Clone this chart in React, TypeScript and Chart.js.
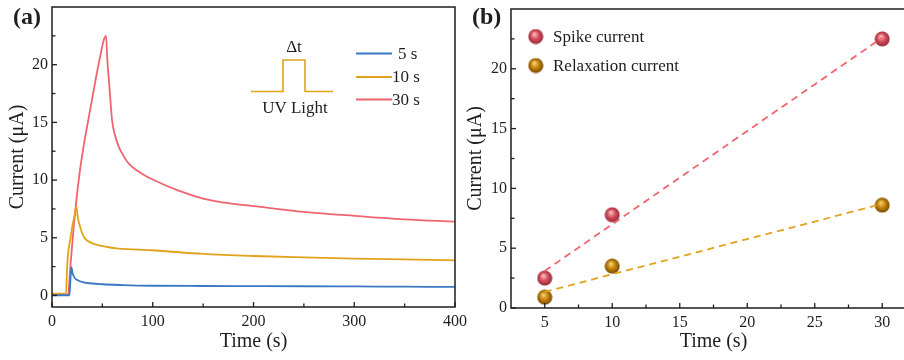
import React, { useEffect, useRef } from "react";
import { Chart, registerables } from "chart.js";
Chart.register(...registerables);

// ---------- Panel (a) data ----------
const time5 = [0, 10, 17.3, 18.2, 19.2, 20.5, 23, 26, 29.8, 35, 50, 70, 99, 150, 200, 250, 300, 350, 400];
const current5 = [0.02, 0.02, 0.02, 1.2, 2.46, 1.9, 1.47, 1.3, 1.18, 1.08, 0.97, 0.9, 0.84, 0.82, 0.81, 0.8, 0.78, 0.76, 0.74];

const time10 = [0, 8, 13.9, 14.8, 15.9, 18, 20, 22.5, 24.2, 25.5, 28.1, 30.5, 33.1, 38, 43, 55, 66, 99, 150, 200, 250, 300, 350, 400];
const current10 = [0.15, 0.15, 0.15, 2.0, 3.6, 4.8, 5.9, 7.0, 7.75, 6.8, 5.9, 5.3, 4.9, 4.6, 4.43, 4.2, 4.06, 3.92, 3.6, 3.42, 3.3, 3.2, 3.12, 3.04];

const time30 = [0, 8, 15.9, 18.2, 21.5, 26.5, 31.5, 36, 41, 46.4, 53.6, 55, 57, 59.6, 62.5, 66.2, 71, 76, 89.4, 100, 125, 150, 175, 200, 250, 300, 350, 400];
const current30 = [0.05, 0.05, 0.05, 2.46, 5.9, 10.0, 13.0, 15.2, 17.6, 20.1, 22.5, 20.3, 18.1, 15.2, 13.9, 12.9, 12.1, 11.45, 10.55, 10.05, 9.1, 8.4, 8.0, 7.75, 7.25, 6.9, 6.6, 6.4];

const seriesLabelsA = ["5 s", "10 s", "30 s"];

// ---------- Panel (b) data ----------
const pulseDuration = [5, 10, 30];
const spikeCurrent = [2.5, 7.8, 22.5];
const relaxationCurrent = [0.9, 3.5, 8.6];
const fitDuration = [5, 30];
const spikeFit = [3.1, 22.6];
const relaxationFit = [1.35, 8.7];
const seriesLabelsB = ["Spike current", "Relaxation current"];

// ---------- ticks ----------
const xMajorA = [0, 100, 200, 300, 400];
const xMinorA = [50, 150, 250, 350];
const yMajor = [0, 5, 10, 15, 20];
const yMinor = [2.5, 7.5, 12.5, 17.5, 22.5];
const xMajorB = [5, 10, 15, 20, 25, 30];
const xMinorB = [7.5, 12.5, 17.5, 22.5, 27.5];

const BLUE = "#3b78c4";
const ORANGE = "#e3a21c";
const RED = "#f0646e";
const INK = "#1e1e1e";
const SERIF = "'Liberation Serif', 'Times New Roman', serif";

function makeSphere(hi: string, mid: string, edge: string) {
  const c = document.createElement("canvas");
  c.width = 16;
  c.height = 16;
  const g = c.getContext("2d")!;
  const grad = g.createRadialGradient(6.5, 5.5, 0.5, 8, 8, 8);
  grad.addColorStop(0, hi);
  grad.addColorStop(0.45, mid);
  grad.addColorStop(1, edge);
  g.fillStyle = grad;
  g.beginPath();
  g.arc(8, 8, 7.5, 0, Math.PI * 2);
  g.fill();
  return c;
}

function framePlugin(xMaj: number[], xMin: number[], yMaj: number[], yMin: number[]) {
  return {
    id: "frameTicks",
    afterDraw(chart: any) {
      const { ctx, chartArea: a, scales } = chart;
      ctx.save();
      ctx.strokeStyle = INK;
      ctx.lineWidth = 1.5;
      ctx.strokeRect(a.left, a.top, a.right - a.left, a.bottom - a.top);
      ctx.lineWidth = 1.3;
      const xs = scales.x;
      const ys = scales.y;
      const drawX = (vals: number[], len: number) => {
        vals.forEach((v) => {
          const p = xs.getPixelForValue(v);
          ctx.beginPath();
          ctx.moveTo(p, a.bottom);
          ctx.lineTo(p, a.bottom - len);
          ctx.stroke();
        });
      };
      const drawY = (vals: number[], len: number) => {
        vals.forEach((v) => {
          const p = ys.getPixelForValue(v);
          ctx.beginPath();
          ctx.moveTo(a.left, p);
          ctx.lineTo(a.left + len, p);
          ctx.stroke();
        });
      };
      drawX(xMaj, 5);
      drawX(xMin, 3.5);
      drawY(yMaj, 5);
      drawY(yMin, 3.5);
      ctx.restore();
    },
  };
}

function setTicks(vals: number[]) {
  return (scale: any) => {
    scale.ticks = vals.map((v) => ({ value: v }));
  };
}

function fixX(h: number) {
  return (s: any) => {
    s.height = h;
    s.paddingLeft = 0;
    s.paddingRight = 0;
  };
}
function fixY(w: number) {
  return (s: any) => {
    s.width = w;
    s.paddingTop = 0;
    s.paddingBottom = 0;
  };
}

const tickFont = { family: SERIF, size: 16 };
const titleFont = { family: SERIF, size: 20 };

export default function App() {
  const refA = useRef<HTMLCanvasElement>(null);
  const refB = useRef<HTMLCanvasElement>(null);

  useEffect(() => {
    const sphereRed = makeSphere("#f7c0c4", "#d9525e", "#8e2434");
    const sphereOrange = makeSphere("#f6d27a", "#c9860c", "#6e4200");

    const toXY = (xs: number[], ys: number[]) => xs.map((x, i) => ({ x, y: ys[i] }));

    const xAxis = (min: number, max: number, major: number[], h: number) => ({
      type: "linear",
      min,
      max,
      grid: { display: false, drawTicks: false },
      border: { display: false },
      afterBuildTicks: setTicks(major),
      afterFit: fixX(h),
      ticks: { color: INK, font: tickFont, autoSkip: false, maxRotation: 0, padding: 5 },
      title: { display: true, text: "Time (s)", color: INK, font: titleFont, padding: { top: 0, bottom: 6 } },
    });
    const yAxis = (min: number, max: number, w: number) => ({
      type: "linear",
      min,
      max,
      grid: { display: false, drawTicks: false },
      border: { display: false },
      afterBuildTicks: setTicks(yMajor),
      afterFit: fixY(w),
      ticks: { color: INK, font: tickFont, autoSkip: false, padding: 4 },
      title: { display: true, text: "Current (\u03bcA)", color: INK, font: titleFont, padding: { top: 6, bottom: 0 } },
    });

    const legendA = {
      id: "legendA",
      afterDraw(chart: any) {
        const { ctx } = chart;
        ctx.save();
        const colors = [BLUE, ORANGE, RED];
        const ys = [53.5, 77, 99.5];
        const tx = [398, 392, 392];
        ctx.lineWidth = 2;
        ctx.font = `17px ${SERIF}`;
        ctx.textBaseline = "middle";
        ctx.fillStyle = INK;
        colors.forEach((c, i) => {
          ctx.strokeStyle = c;
          ctx.beginPath();
          ctx.moveTo(356, ys[i]);
          ctx.lineTo(392, ys[i]);
          ctx.stroke();
          ctx.fillText(seriesLabelsA[i], tx[i], ys[i] + 1);
        });
        ctx.strokeStyle = ORANGE;
        ctx.lineWidth = 1.6;
        ctx.beginPath();
        ctx.moveTo(251, 91.5);
        ctx.lineTo(283, 91.5);
        ctx.lineTo(283, 60);
        ctx.lineTo(305, 60);
        ctx.lineTo(305, 91.5);
        ctx.lineTo(333, 91.5);
        ctx.stroke();
        ctx.textAlign = "center";
        ctx.fillText("\u0394t", 294, 48);
        ctx.fillText("UV Light", 295, 109);
        ctx.textAlign = "left";
        ctx.font = `bold 24px ${SERIF}`;
        ctx.fillText("(a)", 13, 18);
        ctx.restore();
      },
    };

    const chartA = new Chart(refA.current!, {
      type: "line",
      data: {
        datasets: [
          { label: seriesLabelsA[0], data: toXY(time5, current5), borderColor: BLUE },
          { label: seriesLabelsA[1], data: toXY(time10, current10), borderColor: ORANGE },
          { label: seriesLabelsA[2], data: toXY(time30, current30), borderColor: RED },
        ].map((d) => ({ ...d, borderWidth: 1.8, pointRadius: 0, fill: false, cubicInterpolationMode: "monotone" as const })),
      },
      options: {
        animation: false,
        responsive: false,
        devicePixelRatio: 1,
        layout: { padding: { top: 7, right: 15, bottom: 0, left: 0 } },
        plugins: { legend: { display: false }, tooltip: { enabled: false } },
        scales: {
          x: xAxis(0, 400, xMajorA, 53),
          y: yAxis(-1, 25, 52),
        },
      } as any,
      plugins: [framePlugin(xMajorA, xMinorA, yMajor, yMinor), legendA],
    });

    const legendB = {
      id: "legendB",
      afterDraw(chart: any) {
        const { ctx } = chart;
        ctx.save();
        ctx.font = `17px ${SERIF}`;
        ctx.textBaseline = "middle";
        ctx.fillStyle = INK;
        const spheres = [sphereRed, sphereOrange];
        const ys = [36.5, 65.5];
        spheres.forEach((s, i) => {
          ctx.drawImage(s, 77.7 - 8, ys[i] - 8);
          ctx.fillText(seriesLabelsB[i], 95, ys[i] + 1);
        });
        ctx.font = `bold 24px ${SERIF}`;
        ctx.fillText("(b)", 14, 18);
        ctx.restore();
      },
    };

    const chartB = new Chart(refB.current!, {
      type: "line",
      data: {
        datasets: [
          {
            label: "Spike fit",
            data: toXY(fitDuration, spikeFit),
            borderColor: RED,
            borderWidth: 1.8,
            borderDash: [7, 5],
            pointRadius: 0,
          },
          {
            label: "Relaxation fit",
            data: toXY(fitDuration, relaxationFit),
            borderColor: ORANGE,
            borderWidth: 1.8,
            borderDash: [7, 5],
            pointRadius: 0,
          },
          {
            label: seriesLabelsB[0],
            data: toXY(pulseDuration, spikeCurrent),
            showLine: false,
            pointStyle: sphereRed,
            pointRadius: 8,
          },
          {
            label: seriesLabelsB[1],
            data: toXY(pulseDuration, relaxationCurrent),
            showLine: false,
            pointStyle: sphereOrange,
            pointRadius: 8,
          },
        ],
      },
      options: {
        animation: false,
        responsive: false,
        devicePixelRatio: 1,
        layout: { padding: { top: 8, right: 4, bottom: 0, left: 0 } },
        plugins: { legend: { display: false }, tooltip: { enabled: false } },
        scales: {
          x: xAxis(2.5, 32.5, xMajorB, 52),
          y: yAxis(0, 25, 53),
        },
      } as any,
      plugins: [framePlugin(xMajorB, xMinorB, yMajor, yMinor), legendB],
    });

    return () => {
      chartA.destroy();
      chartB.destroy();
    };
  }, []);

  return (
    <div
      style={{
        position: "fixed",
        left: 0,
        top: 0,
        width: 904,
        height: 360,
        overflow: "hidden",
        background: "#fff",
      }}
    >
      <canvas ref={refA} width={470} height={360} style={{ position: "absolute", left: 0, top: 0 }} />
      <canvas ref={refB} width={467} height={360} style={{ position: "absolute", left: 458, top: 0 }} />
    </div>
  );
}
